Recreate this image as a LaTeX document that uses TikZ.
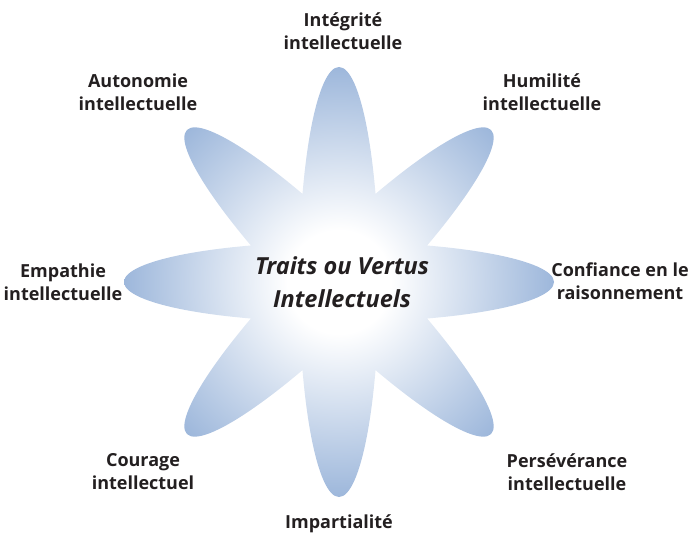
\documentclass[tikz,border=0pt]{standalone}
\usepackage{fontspec}
\setmainfont{Open Sans}
\usepackage{tikz}
\usetikzlibrary{positioning}
\definecolor{petalblue}{RGB}{157,183,219}
\definecolor{inkgrey}{RGB}{35,31,32}
\pgfdeclareradialshading{petalglow}{\pgfpoint{0bp}{0bp}}{color(0bp)=(white); color(6bp)=(white); color(25bp)=(petalblue); color(50bp)=(petalblue)}
\tikzstyle{trait}=[
	font=\fontsize{18}{23}\selectfont\bfseries,
	text=inkgrey,
	align=center,
	inner sep=0]
\tikzstyle{core}=[
	font=\fontsize{23.5}{33}\selectfont\bfseries\itshape,
	text=inkgrey,
	align=center,
	inner sep=0]

\begin{document}
\begin{tikzpicture}[x=1pt,y=-1pt]
	\useasboundingbox (0,0) rectangle (692,532);
	\coordinate (c) at (339,282);
	\shade[shading=petalglow]
		(c) ellipse (215 and 40)
		[rotate around={45:(c)}] (c) ellipse (215 and 40)
		[rotate around={90:(c)}] (c) ellipse (215 and 40)
		[rotate around={135:(c)}] (c) ellipse (215 and 40);
	\node[core]		(centre)	at (342,282)	{Traits ou Vertus\\Intellectuels};
	\node[trait]	(integ)		at (343,31)		{Intégrité\\intellectuelle};
	\node[trait]	(humil)		at (542,92)		{Humilité\\intellectuelle};
	\node[trait]	(confi)		at (620,281)	{Confiance en le\\raisonnement};
	\node[trait]	(perse)		at (567,472)	{Persévérance\\intellectuelle};
	\node[trait]	(impar)		at (339,524)	{Impartialité};
	\node[trait]	(coura)		at (143,472)	{Courage\\intellectuel};
	\node[trait]	(empat)		at (63,282)		{Empathie\\intellectuelle};
	\node[trait]	(auton)		at (138,92)		{Autonomie\\intellectuelle};
\end{tikzpicture}
\end{document}
